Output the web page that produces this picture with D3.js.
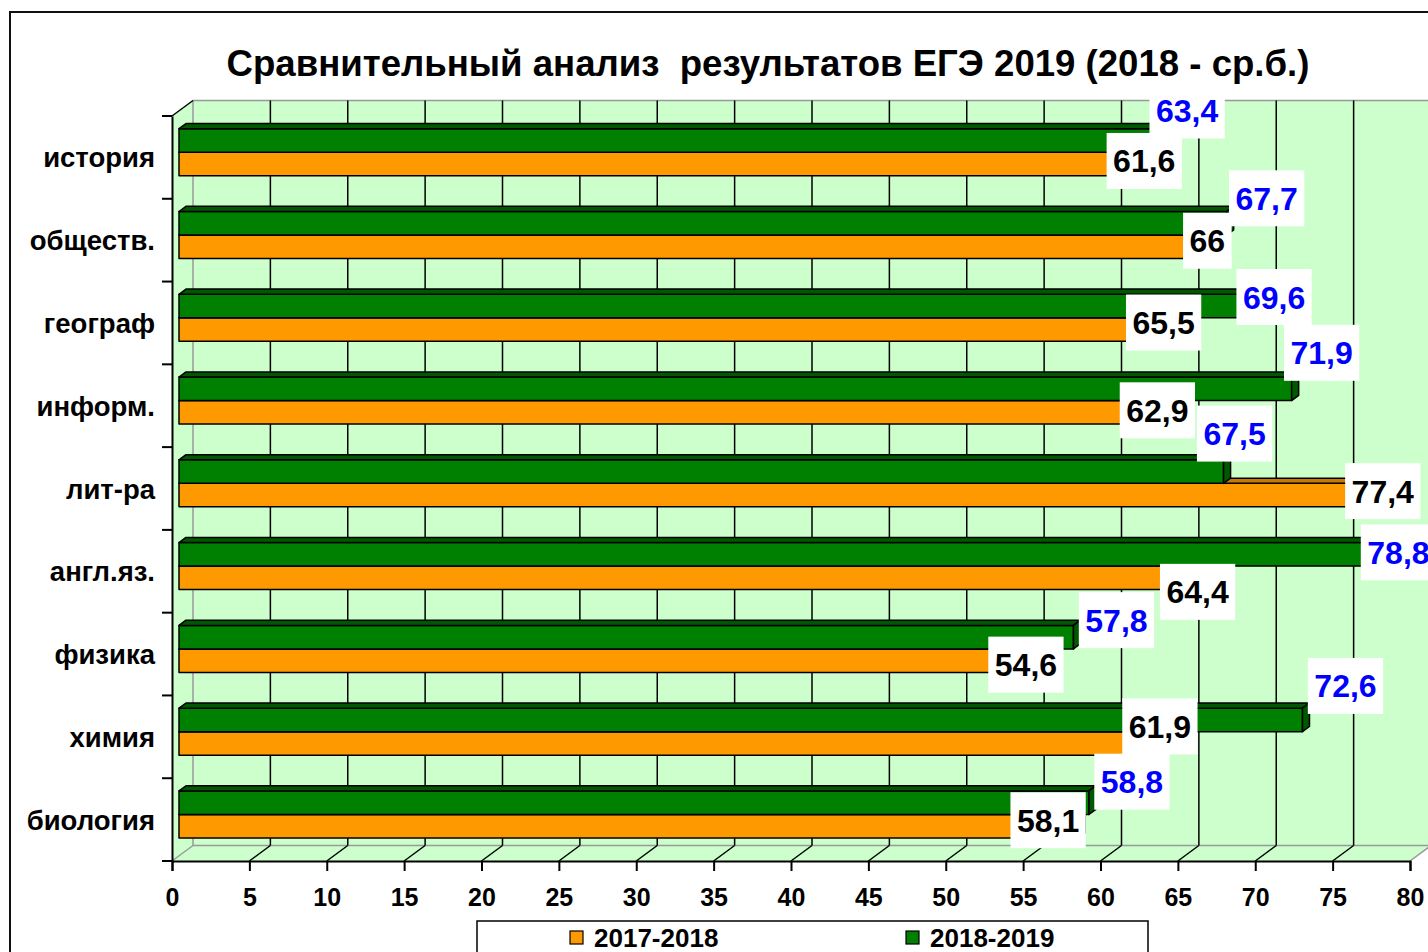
<!DOCTYPE html>
<html>
<head>
<meta charset="utf-8">
<script src="https://cdn.jsdelivr.net/npm/d3@7"></script>
<style>
  body { margin: 0; background: #fff; }
  svg { display: block; }
  text { font-family: "Liberation Sans", Arial, sans-serif; font-weight: bold; }
</style>
</head>
<body>
<svg class="eg-chart" width="1428" height="952"></svg>
<script>
// data
const categories = ['история', 'обществ.', 'географ', 'информ.', 'лит-ра', 'англ.яз.', 'физика', 'химия', 'биология'];
const seriesNames = ['2017-2018', '2018-2019'];
const scores1718 = [61.6, 66, 65.5, 62.9, 77.4, 64.4, 54.6, 61.9, 58.1];
const scores1819 = [63.4, 67.7, 69.6, 71.9, 67.5, 78.8, 57.8, 72.6, 58.8];
const xTicks = [0, 5, 10, 15, 20, 25, 30, 35, 40, 45, 50, 55, 60, 65, 70, 75, 80];
const titleText = 'Сравнительный анализ  результатов ЕГЭ 2019 (2018 - ср.б.)';

// colours
const wallColor = '#ccffcc';
const colors = {'2017-2018': '#ff9900', '2018-2019': '#008000'};
const darkColors = {'2017-2018': '#c87800', '2018-2019': '#005800'};
const labelColors = {'2017-2018': '#000', '2018-2019': '#0000ff'};

// the data labels were dragged by hand in the original, so each one has a nudge (px)
const nudge1718 = [[12, -3], [7, -6], [-29, -7], [5, -2], [6, -4], [22, 14], [2, 4], [23, -17], [-30, -6]];
const nudge1819 = [[27, -30], [40, -25], [18, -9], [30, -36], [11, -38], [0, -2], [43, -17], [43, -34], [43, -21]];

let svg = d3.select('.eg-chart');

// outer chart frame
svg.append('rect')
  .attr('x', 10).attr('y', 12)
  .attr('width', 1450).attr('height', 980)
  .attr('fill', '#fff').attr('stroke', '#111').attr('stroke-width', 2);

svg.append('text')
  .attr('x', 768).attr('y', 76)
  .attr('text-anchor', 'middle')
  .attr('font-size', 36.6)
  .style('white-space', 'pre')
  .text(titleText);

// scales (front plane)
let x = d3.scaleLinear().domain([0, 80]).range([172, 1410]);
let y = d3.scaleBand().domain(categories).range([116, 861]);
let inner = d3.scaleBand().domain(['2018-2019', '2017-2018']).range([-23.5, 23.5]);

// depth of the 3d box
const DX = 21, DY = -15.5;
let shift = (p, f) => [p[0] + DX * f, p[1] + DY * f];
let poly = pts => pts.map(p => p.join(',')).join(' ');

let x0 = x(0), x1 = x(80), yTop = y.range()[0], yBot = y.range()[1];

// back wall
svg.append('polygon')
  .attr('points', poly([shift([x0, yTop], 1), shift([x1 + 40, yTop], 1), shift([x1 + 40, yBot], 1), shift([x0, yBot], 1)]))
  .attr('fill', wallColor);
// left wall
svg.append('polygon')
  .attr('points', poly([[x0, yTop], shift([x0, yTop], 1), shift([x0, yBot], 1), [x0, yBot]]))
  .attr('fill', wallColor);
// floor
svg.append('polygon')
  .attr('points', poly([[x0, yBot], [x1, yBot], shift([x1, yBot], 1), shift([x0, yBot], 1)]))
  .attr('fill', wallColor);

// gray edges of the box
let edges = svg.append('g').attr('stroke', '#999').attr('stroke-width', 1.5).attr('fill', 'none');
edges.append('polyline')
  .attr('points', poly([shift([x1 + 40, yTop], 1), shift([x0, yTop], 1), shift([x0, yBot], 1), shift([x1 + 40, yBot], 1)]));
edges.append('line')
  .attr('x1', x0).attr('y1', yBot)
  .attr('x2', shift([x0, yBot], 1)[0]).attr('y2', shift([x0, yBot], 1)[1]);
edges.append('line')
  .attr('x1', x1).attr('y1', yBot)
  .attr('x2', shift([x1, yBot], 1)[0]).attr('y2', shift([x1, yBot], 1)[1]);

// gridlines: back wall verticals and floor diagonals
let grid = svg.append('g').attr('stroke', '#000').attr('stroke-width', 1.5);
grid.selectAll('.wall-line')
  .data(xTicks.filter(d => d > 0 && d < 80))
  .enter().append('line')
  .attr('x1', d => x(d) + DX).attr('x2', d => x(d) + DX)
  .attr('y1', yTop + DY).attr('y2', yBot + DY);
grid.selectAll('.floor-line')
  .data(xTicks.filter(d => d > 0 && d < 80))
  .enter().append('line')
  .attr('x1', d => x(d)).attr('y1', yBot)
  .attr('x2', d => x(d) + DX).attr('y2', yBot + DY);
grid.append('line')
  .attr('x1', x0).attr('y1', yTop)
  .attr('x2', x0 + DX).attr('y2', yTop + DY);

// axes
let xAxis = d3.axisBottom(x).tickValues(xTicks).tickSize(10).tickPadding(17);
let gx = svg.append('g').attr('transform', 'translate(0,' + yBot + ')').call(xAxis);
gx.select('.domain').attr('stroke', '#000').attr('stroke-width', 2);
gx.selectAll('.tick line').attr('stroke', '#000').attr('stroke-width', 2);
gx.selectAll('.tick text')
  .attr('font-size', 25).attr('fill', '#000')
  .attr('font-family', '"Liberation Sans", Arial, sans-serif');

let yAxis = d3.axisLeft(y).tickSize(0).tickPadding(17);
let gy = svg.append('g').attr('transform', 'translate(' + x0 + ',0)').call(yAxis);
gy.select('.domain').attr('stroke', '#000').attr('stroke-width', 2);
gy.selectAll('.tick text')
  .attr('font-size', 27.5).attr('fill', '#000').attr('dy', 10)
  .attr('font-family', '"Liberation Sans", Arial, sans-serif');
// category ticks sit between the bands
gy.selectAll('.band-tick')
  .data(d3.range(categories.length + 1))
  .enter().append('line')
  .attr('x1', -10).attr('x2', 0)
  .attr('y1', i => yTop + i * y.step()).attr('y2', i => yTop + i * y.step())
  .attr('stroke', '#000').attr('stroke-width', 2);

// 3d bars, at one third of the depth
const FRONT = 1 / 3, BACK = 2 / 3;
let rows = categories.map((c, i) => ({
  cat: c, i: i,
  bars: [
    {series: '2017-2018', value: scores1718[i], nudge: nudge1718[i]},
    {series: '2018-2019', value: scores1819[i], nudge: nudge1819[i]}
  ]
}));

let barGeom = function (cat, b) {
  let cy = y(cat) + y.bandwidth() / 2 + inner(b.series);
  let a = shift([x(0), cy], FRONT), e = shift([x(b.value), cy], FRONT);
  let h = inner.bandwidth();
  let up = [DX * (BACK - FRONT), DY * (BACK - FRONT)];
  return {a: a, e: e, h: h, up: up};
};

let barG = svg.append('g').attr('stroke', '#000').attr('stroke-width', 1.5).attr('stroke-linejoin', 'round');
rows.forEach(row => {
  row.bars.forEach(b => {
    let g = barGeom(row.cat, b);
    let [ax, ay] = g.a, [ex, ey] = g.e, [ux, uy] = g.up;
    barG.append('rect')
      .attr('x', ax).attr('y', ay)
      .attr('width', ex - ax).attr('height', g.h)
      .attr('fill', colors[b.series]);
    barG.append('polygon')
      .attr('points', poly([[ax, ay], [ax + ux, ay + uy], [ex + ux, ey + uy], [ex, ey]]))
      .attr('fill', darkColors[b.series]);
    barG.append('polygon')
      .attr('points', poly([[ex, ey], [ex + ux, ey + uy], [ex + ux, ey + uy + g.h], [ex, ey + g.h]]))
      .attr('fill', darkColors[b.series]);
  });
});

// data labels with white boxes
let labelG = svg.append('g');
rows.forEach(row => {
  row.bars.forEach(b => {
    let g = barGeom(row.cat, b);
    let cx = g.e[0] + b.nudge[0];
    let cy = g.e[1] + g.h / 2 + b.nudge[1];
    let box = labelG.append('rect').attr('fill', '#fff');
    let t = labelG.append('text')
      .attr('x', cx).attr('y', cy + 11.5)
      .attr('text-anchor', 'middle')
      .attr('font-size', 32)
      .attr('fill', labelColors[b.series])
      .text(String(b.value).replace('.', ','));
    let w = t.node().getComputedTextLength() + 13;
    box.attr('x', cx - w / 2).attr('y', cy - 28).attr('width', w).attr('height', 56);
  });
});

// legend
let legend = svg.append('g');
legend.append('rect')
  .attr('x', 477).attr('y', 921)
  .attr('width', 671).attr('height', 60)
  .attr('fill', '#fff').attr('stroke', '#000').attr('stroke-width', 1.5);
let legendX = d3.scalePoint().domain(seriesNames).range([570, 906]);
let item = legend.selectAll('.item')
  .data(seriesNames)
  .enter().append('g')
  .attr('transform', d => 'translate(' + legendX(d) + ',931)');
item.append('rect')
  .attr('width', 13).attr('height', 13)
  .attr('fill', d => colors[d]).attr('stroke', '#000').attr('stroke-width', 1.2);
item.append('text')
  .attr('x', 24).attr('y', 15.5)
  .attr('font-size', 26)
  .text(d => d);
</script>
</body>
</html>
